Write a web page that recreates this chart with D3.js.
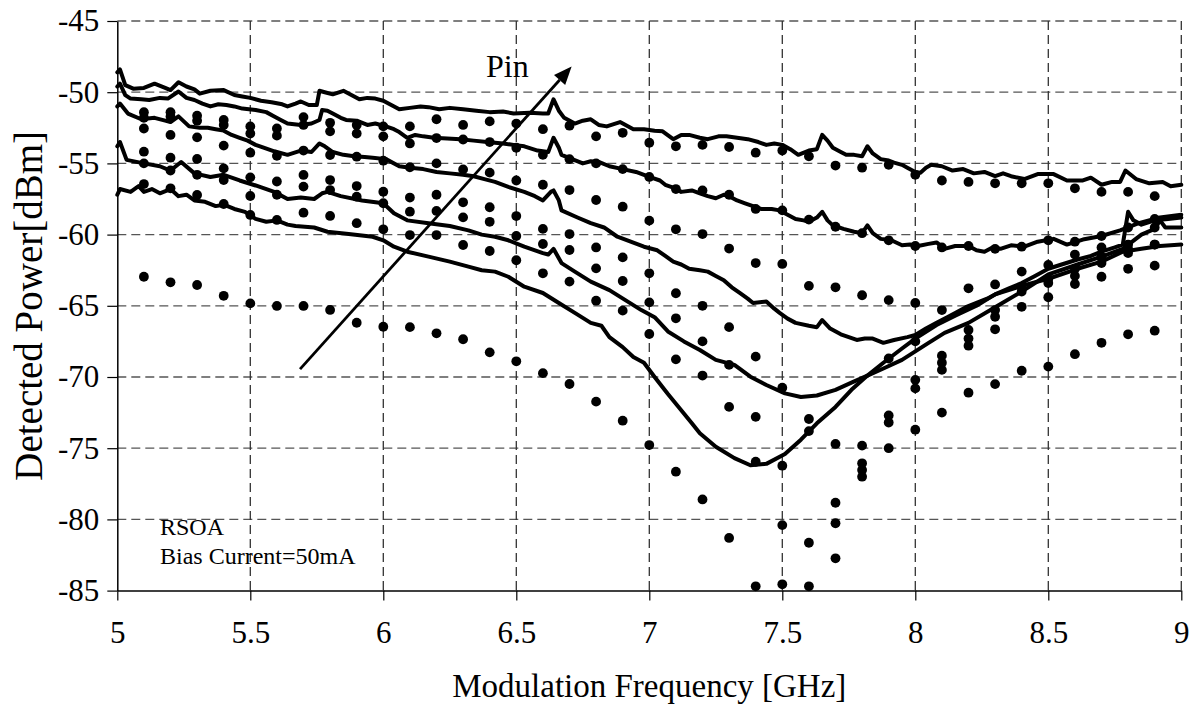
<!DOCTYPE html>
<html>
<head>
<meta charset="utf-8">
<script src="https://cdn.jsdelivr.net/npm/d3@7/dist/d3.min.js"></script>
<style>
  html, body { margin: 0; padding: 0; background: #fff; }
  svg { display: block; }
  text { font-family: "Liberation Serif", "Times New Roman", serif; fill: #000; }
</style>
</head>
<body>
<script>
// Tick values
const xTicks = [5, 5.5, 6, 6.5, 7, 7.5, 8, 8.5, 9];
const yTicks = [-45, -50, -55, -60, -65, -70, -75, -80, -85];

// Simulated response, sampled every 0.1 GHz (one array per input power)
const dotFreq = [5.1,5.2,5.3,5.4,5.5,5.6,5.7,5.8,5.9,
  6.0,6.1,6.2,6.3,6.4,6.5,6.6,6.7,6.8,6.9,
  7.0,7.1,7.2,7.3,7.4,7.5,7.6,7.7,7.8,7.9,
  8.0,8.1,8.2,8.3,8.4,8.5,8.6,8.7,8.8,8.9];
const simA = [-51.4,-51.4,-51.65,-51.95,-52.4,-52.55,-51.75,-52.15,-52.3,
  -52.4,-52.4,-51.9,-52.3,-52.05,-52.2,-52.6,-52.35,-53.1,-52.85,
  -53.55,-53.8,-53.7,-53.85,-54.25,-54.1,-54.5,-55.15,-55.3,-55.1,
  -55.8,-56.2,-56.3,-56.4,-56.4,-56.4,-56.75,-57.0,-57.0,-57.3];
const simB = [-51.8,-51.7,-52.0,-52.3,-52.9,-53.05,-52.3,-52.75,-52.9,
  -53.1,-53.6,-53.22,-53.32,-53.5,-53.9,-54.4,-54.7,-55.0,-55.4,
  -55.95,-56.8,-56.9,-57.2,-58.2,-58.3,-58.95,-59.45,-59.9,-60.4,
  -60.8,-60.9,-60.8,-61.0,-60.85,-60.4,-60.5,-60.1,-59.5,-58.9];
const simC = [-52.55,-53.0,-53.17,-53.75,-54.25,-54.47,-54.1,-54.41,-54.53,
  -54.81,-55.27,-55.0,-55.42,-55.65,-56.2,-56.5,-56.87,-57.57,-58.04,
  -59.02,-59.63,-59.96,-60.98,-62.0,-62.06,-63.6,-63.7,-64.26,-64.6,
  -64.8,-65.3,-63.77,-63.5,-62.6,-62.13,-61.4,-60.9,-60.7,-59.5];
const simD = [-54.18,-54.6,-54.69,-55.35,-55.98,-56.27,-55.81,-56.17,-56.59,
  -56.99,-57.4,-57.2,-57.73,-58.08,-58.7,-59.6,-59.96,-60.9,-61.6,
  -62.72,-64.12,-65.0,-66.5,-68.57,-70.75,-72.95,-74.7,-74.82,-72.7,
  -67.5,-68.5,-66.7,-65.3,-63.7,-63.1,-62.4,-61.55,-61.0,-60.7];
const simE = [-55.0,-55.5,-55.8,-56.17,-57.29,-57.2,-56.63,-56.87,-57.34,
  -57.8,-58.39,-58.34,-58.79,-59.1,-60.1,-60.66,-61.08,-62.37,-63.26,
  -64.76,-65.88,-67.5,-69.15,-72.8,-76.23,-73.8,-78.83,-76.06,-73.2,
  -70.2,-69.0,-67.3,-65.77,-64.0,-63.4,-62.9,-62.0,-61.3,-60.7];
const simF = [-56.45,-56.75,-57.22,-57.85,-58.62,-58.97,-58.46,-58.69,-59.2,
  -59.63,-60.03,-60.03,-60.73,-61.15,-61.8,-62.72,-63.3,-64.64,-65.34,
  -66.98,-68.76,-69.9,-72.1,-75.95,-80.4,-81.64,-80.27,-76.53,-68.7,
  -70.8,-69.5,-67.8,-66.65,-65.07,-64.4,-63.47,-62.96,-62.4,-62.18];
const simG = [-62.96,-63.35,-63.54,-64.3,-64.83,-65.01,-65.01,-65.29,-66.19,
  -66.47,-66.5,-66.93,-67.35,-68.27,-68.9,-69.73,-70.49,-71.73,-73.07,
  -74.78,-76.65,-78.6,-81.3,-84.7,-84.56,-84.7,-82.73,-77.0,-75.0,
  -73.7,-72.5,-71.1,-70.5,-69.56,-69.27,-68.4,-67.6,-67.0,-66.75];
const simSeries = [simA, simB, simC, simD, simE, simF, simG];

// Measured traces, [frequency GHz, power dBm]
const meas1 = [[5.00,-48.6],[5.01,-48.4],[5.03,-49.5],[5.06,-49.75],[5.10,-49.7],[5.14,-49.4],[5.18,-49.7],[5.20,-49.85],[5.23,-49.3],[5.26,-49.6],[5.29,-49.8],[5.31,-50.1],[5.35,-49.9],[5.40,-49.85],[5.44,-50.2],[5.47,-50.3],[5.50,-50.4],[5.54,-50.6],[5.58,-50.7],[5.62,-50.85],[5.64,-51.0],[5.67,-50.8],[5.69,-50.65],[5.72,-50.9],[5.75,-50.9],[5.76,-49.9],[5.78,-50.0],[5.81,-50.15],[5.85,-49.9],[5.88,-50.2],[5.91,-50.5],[5.94,-50.4],[5.97,-50.45],[6.00,-50.6],[6.03,-50.9],[6.06,-51.2],[6.10,-51.1],[6.14,-51.0],[6.17,-51.05],[6.21,-51.2],[6.25,-51.1],[6.30,-51.2],[6.35,-51.3],[6.40,-51.4],[6.45,-51.35],[6.49,-51.5],[6.55,-51.45],[6.60,-51.5],[6.62,-51.5],[6.64,-50.5],[6.66,-51.3],[6.68,-51.8],[6.72,-52.2],[6.75,-52.0],[6.78,-51.9],[6.81,-52.3],[6.84,-52.4],[6.89,-52.1],[6.94,-52.6],[6.98,-52.6],[7.02,-52.7],[7.05,-52.75],[7.09,-53.3],[7.12,-53.0],[7.15,-53.0],[7.19,-53.2],[7.22,-53.3],[7.26,-53.1],[7.29,-53.1],[7.33,-53.2],[7.37,-53.3],[7.41,-53.5],[7.44,-53.7],[7.47,-53.6],[7.50,-53.7],[7.53,-54.0],[7.56,-54.4],[7.60,-54.1],[7.63,-54.0],[7.65,-53.0],[7.67,-53.4],[7.69,-53.9],[7.72,-54.2],[7.74,-54.4],[7.77,-54.4],[7.80,-54.5],[7.82,-53.8],[7.84,-54.3],[7.87,-54.7],[7.90,-54.8],[7.92,-54.95],[7.95,-55.1],[7.97,-55.3],[8.00,-55.6],[8.02,-55.65],[8.04,-55.3],[8.06,-55.1],[8.10,-55.2],[8.14,-55.5],[8.18,-55.4],[8.22,-55.7],[8.26,-55.6],[8.30,-55.9],[8.33,-55.7],[8.36,-55.9],[8.41,-56.1],[8.46,-55.75],[8.52,-55.75],[8.57,-56.2],[8.63,-56.2],[8.66,-56.0],[8.70,-56.5],[8.74,-56.3],[8.77,-56.3],[8.79,-55.5],[8.81,-55.8],[8.83,-56.1],[8.88,-56.4],[8.93,-56.3],[8.96,-56.6],[9.00,-56.5]];

const meas2 = [[5.00,-49.6],[5.01,-49.4],[5.03,-50.2],[5.05,-50.45],[5.09,-50.5],[5.12,-50.55],[5.16,-50.4],[5.19,-50.45],[5.23,-49.95],[5.26,-50.4],[5.29,-50.55],[5.32,-50.8],[5.35,-51.0],[5.38,-50.85],[5.41,-50.9],[5.44,-51.0],[5.47,-51.15],[5.52,-51.25],[5.56,-51.4],[5.59,-51.7],[5.62,-52.0],[5.64,-52.2],[5.69,-52.3],[5.73,-52.2],[5.76,-51.95],[5.77,-51.25],[5.79,-51.3],[5.81,-51.5],[5.84,-51.8],[5.86,-51.95],[5.90,-52.0],[5.94,-52.3],[5.97,-52.2],[6.01,-52.4],[6.04,-52.6],[6.06,-52.8],[6.09,-53.2],[6.12,-53.0],[6.15,-53.1],[6.19,-53.2],[6.24,-53.25],[6.29,-53.3],[6.34,-53.4],[6.39,-53.5],[6.45,-53.6],[6.49,-53.7],[6.53,-53.8],[6.58,-54.1],[6.62,-54.2],[6.64,-53.2],[6.66,-53.9],[6.67,-54.4],[6.71,-54.7],[6.75,-55.0],[6.78,-54.85],[6.81,-54.9],[6.85,-55.2],[6.90,-55.4],[6.95,-55.6],[7.00,-55.95],[7.04,-56.2],[7.06,-56.5],[7.09,-56.7],[7.12,-57.0],[7.16,-56.9],[7.19,-57.1],[7.22,-57.3],[7.25,-57.45],[7.28,-57.2],[7.30,-57.3],[7.33,-57.6],[7.36,-57.8],[7.39,-58.0],[7.42,-58.2],[7.46,-58.2],[7.49,-58.3],[7.52,-58.6],[7.55,-58.9],[7.58,-59.0],[7.60,-59.1],[7.63,-58.8],[7.65,-58.4],[7.67,-59.0],[7.69,-59.35],[7.73,-59.6],[7.77,-59.8],[7.80,-59.9],[7.82,-59.35],[7.84,-59.9],[7.87,-60.3],[7.91,-60.4],[7.95,-60.75],[7.98,-60.7],[8.01,-60.8],[8.05,-60.65],[8.08,-60.55],[8.11,-61.0],[8.15,-60.8],[8.20,-60.8],[8.23,-61.1],[8.26,-61.2],[8.29,-60.9],[8.32,-61.0],[8.36,-60.75],[8.41,-60.85],[8.46,-60.5],[8.52,-60.3],[8.57,-60.7],[8.63,-60.35],[8.70,-60.1],[8.77,-59.7],[8.84,-59.2],[8.92,-58.8],[9.00,-58.6]];

const meas3 = [[5.00,-51.0],[5.01,-50.8],[5.04,-51.5],[5.09,-51.9],[5.14,-51.8],[5.18,-52.0],[5.20,-52.1],[5.23,-51.7],[5.27,-52.4],[5.31,-52.5],[5.34,-52.5],[5.37,-52.6],[5.40,-52.7],[5.43,-53.0],[5.46,-53.2],[5.49,-53.4],[5.52,-53.7],[5.55,-53.9],[5.59,-54.15],[5.64,-54.4],[5.69,-54.1],[5.73,-54.2],[5.76,-53.6],[5.78,-53.8],[5.81,-54.2],[5.85,-54.4],[5.89,-54.5],[5.93,-54.55],[5.96,-54.6],[6.01,-54.7],[6.06,-55.2],[6.10,-55.3],[6.15,-55.4],[6.20,-55.6],[6.25,-55.7],[6.30,-55.8],[6.34,-55.9],[6.38,-56.1],[6.42,-56.3],[6.47,-56.65],[6.53,-57.0],[6.57,-57.3],[6.60,-57.6],[6.63,-57.0],[6.64,-56.9],[6.66,-57.6],[6.67,-58.3],[6.73,-58.8],[6.78,-59.2],[6.83,-59.5],[6.88,-60.15],[6.93,-60.5],[6.98,-60.85],[7.03,-61.1],[7.06,-61.5],[7.09,-61.9],[7.12,-62.1],[7.15,-62.4],[7.19,-62.5],[7.22,-62.6],[7.25,-62.9],[7.28,-63.2],[7.31,-63.7],[7.34,-64.1],[7.37,-64.5],[7.39,-64.8],[7.44,-64.7],[7.47,-65.2],[7.49,-65.5],[7.52,-65.9],[7.55,-66.2],[7.60,-66.4],[7.63,-66.5],[7.65,-66.0],[7.68,-66.6],[7.72,-67.0],[7.75,-67.2],[7.78,-67.4],[7.81,-67.3],[7.84,-67.3],[7.88,-67.6],[7.92,-67.4],[7.97,-67.2],[8.00,-67.05],[8.04,-66.6],[8.08,-66.2],[8.12,-65.8],[8.15,-65.5],[8.19,-65.1],[8.23,-64.8],[8.27,-64.5],[8.30,-64.2],[8.35,-63.8],[8.40,-63.4],[8.45,-62.9],[8.50,-62.4],[8.55,-62.1],[8.61,-61.75],[8.66,-61.5],[8.70,-61.2],[8.75,-60.9],[8.78,-60.7],[8.80,-58.4],[8.82,-59.0],[8.85,-59.3],[8.90,-59.0],[8.95,-58.9],[9.00,-58.8]];

const meas4 = [[5.00,-53.8],[5.01,-53.5],[5.035,-54.75],[5.10,-55.0],[5.16,-55.2],[5.20,-55.5],[5.24,-54.9],[5.29,-55.7],[5.35,-55.95],[5.40,-55.8],[5.46,-56.2],[5.52,-56.55],[5.59,-57.0],[5.64,-57.5],[5.69,-57.4],[5.74,-57.5],[5.77,-57.1],[5.79,-57.0],[5.84,-57.3],[5.92,-57.6],[6.00,-57.8],[6.04,-58.5],[6.09,-59.0],[6.17,-59.2],[6.25,-59.4],[6.32,-59.7],[6.37,-60.0],[6.42,-60.15],[6.47,-60.4],[6.53,-60.85],[6.60,-61.3],[6.62,-61.4],[6.64,-61.0],[6.67,-62.0],[6.72,-62.6],[6.78,-63.3],[6.85,-63.9],[6.91,-64.6],[6.97,-65.3],[7.02,-65.8],[7.07,-66.8],[7.13,-67.5],[7.19,-68.1],[7.25,-68.8],[7.32,-69.15],[7.38,-69.98],[7.44,-70.56],[7.51,-71.15],[7.57,-71.4],[7.63,-71.3],[7.70,-70.9],[7.76,-70.4],[7.82,-69.9],[7.88,-69.4],[7.95,-68.8],[8.05,-67.6],[8.11,-66.9],[8.20,-66.2],[8.30,-65.1],[8.40,-64.0],[8.50,-62.8],[8.61,-62.1],[8.70,-61.55],[8.78,-61.0],[8.85,-60.0],[8.90,-59.6],[8.92,-59.0],[8.94,-59.5],[9.00,-59.5]];

const meas5 = [[5.00,-57.2],[5.01,-56.8],[5.05,-57.0],[5.08,-56.6],[5.10,-57.0],[5.13,-56.8],[5.16,-57.1],[5.20,-56.8],[5.23,-57.3],[5.26,-57.2],[5.29,-57.6],[5.33,-57.7],[5.37,-58.0],[5.40,-57.9],[5.44,-58.2],[5.48,-58.4],[5.52,-58.9],[5.56,-59.1],[5.60,-59.0],[5.64,-59.3],[5.67,-59.4],[5.74,-59.5],[5.79,-59.8],[5.87,-59.95],[5.96,-60.15],[6.00,-60.4],[6.04,-60.85],[6.09,-61.2],[6.17,-61.55],[6.25,-61.9],[6.32,-62.25],[6.37,-62.5],[6.42,-62.6],[6.47,-62.96],[6.53,-63.66],[6.60,-64.1],[6.66,-64.8],[6.72,-65.5],[6.78,-66.2],[6.82,-66.4],[6.85,-67.2],[6.90,-67.9],[6.94,-68.6],[6.98,-69.0],[7.02,-70.0],[7.07,-71.2],[7.11,-72.1],[7.16,-73.25],[7.19,-73.95],[7.25,-74.9],[7.32,-75.7],[7.38,-76.2],[7.44,-76.1],[7.51,-75.4],[7.57,-74.4],[7.63,-73.25],[7.70,-72.1],[7.76,-70.9],[7.82,-69.9],[7.88,-69.0],[7.95,-68.0],[8.00,-67.3],[8.08,-66.35],[8.15,-65.7],[8.23,-65.0],[8.30,-64.2],[8.40,-63.6],[8.50,-63.1],[8.61,-62.4],[8.70,-61.9],[8.78,-61.2],[8.85,-61.0],[8.92,-60.8],[9.00,-60.7]];

const measured = [meas1, meas2, meas3, meas4, meas5];

// Annotation: arrow along increasing input power
const arrowFrom = [5.687, -69.45];
const arrowTo = [6.708, -48.2];

const W = 1191, H = 707;
const svg = d3.select("body").append("svg").attr("width", W).attr("height", H);

const x = d3.scaleLinear().domain([5, 9]).range([117.3, 1181.3]);
const y = d3.scaleLinear().domain([-85, -45]).range([590.6, 21]);

// Dashed grid
const grid = svg.append("g");
grid.selectAll("line.h").data(yTicks.filter(v => v !== -85)).join("line")
  .attr("x1", x(5)).attr("x2", x(9))
  .attr("y1", d => y(d)).attr("y2", d => y(d))
  .attr("stroke", "#555").attr("stroke-width", 1.3)
  .attr("stroke-dasharray", "9,5");
grid.selectAll("line.v").data(xTicks.filter(v => v !== 5)).join("line")
  .attr("y1", y(-45)).attr("y2", y(-85))
  .attr("x1", d => x(d)).attr("x2", d => x(d))
  .attr("stroke", "#333").attr("stroke-width", 1.3)
  .attr("stroke-dasharray", "9,5");

// Axes
const xAxis = d3.axisBottom(x).tickValues(xTicks).tickSize(10)
  .tickFormat(d3.format("")).tickSizeOuter(0);
const yAxis = d3.axisLeft(y).tickValues(yTicks).tickSize(10).tickPadding(8)
  .tickFormat(d => String(d)).tickSizeOuter(0);

const gx = svg.append("g").attr("transform", `translate(0,${y(-85)})`).call(xAxis);
const gy = svg.append("g").attr("transform", `translate(${x(5)},0)`).call(yAxis);
[gx, gy].forEach(g => {
  g.select(".domain").attr("stroke", "#000").attr("stroke-width", 1.5);
  g.selectAll(".tick line").attr("stroke", "#000").attr("stroke-width", 1.2);
  g.selectAll(".tick text").attr("font-family", "Liberation Serif").attr("font-size", 31).attr("fill", "#000");
});
gx.selectAll(".tick text").attr("y", 52).attr("dy", 0);

// Measured traces
const line = d3.line().x(d => x(d[0])).y(d => y(d[1]));
svg.append("g").selectAll("path").data(measured).join("path")
  .attr("d", line)
  .attr("fill", "none").attr("stroke", "#000")
  .attr("stroke-width", 4).attr("stroke-linejoin", "round").attr("stroke-linecap", "round");

// Simulated points
const dotData = simSeries.flatMap(s => s.map((v, i) => [dotFreq[i], v]));
svg.append("g").selectAll("circle").data(dotData).join("circle")
  .attr("cx", d => x(d[0])).attr("cy", d => y(d[1])).attr("r", 4.9).attr("fill", "#000");

// Arrow
const ax1 = x(arrowFrom[0]), ay1 = y(arrowFrom[1]);
const ax2 = x(arrowTo[0]), ay2 = y(arrowTo[1]);
const ang = Math.atan2(ay2 - ay1, ax2 - ax1);
const headLen = 18, headHalf = 7.5;
const bx = ax2 - headLen * Math.cos(ang), by = ay2 - headLen * Math.sin(ang);
svg.append("line")
  .attr("x1", ax1).attr("y1", ay1).attr("x2", bx).attr("y2", by)
  .attr("stroke", "#000").attr("stroke-width", 2.8);
svg.append("path")
  .attr("d", `M${ax2},${ay2} L${bx + headHalf * Math.sin(ang)},${by - headHalf * Math.cos(ang)} L${bx - headHalf * Math.sin(ang)},${by + headHalf * Math.cos(ang)} Z`)
  .attr("fill", "#000");

// Labels
svg.append("text").attr("x", x(6.386)).attr("y", y(-48.93))
  .attr("font-size", 32).text("Pin");
svg.append("text").attr("x", 160).attr("y", 535).attr("font-size", 24).text("RSOA");
svg.append("text").attr("x", 160).attr("y", 564).attr("font-size", 24).text("Bias Current=50mA");

svg.append("text").attr("x", (x(5) + x(9)) / 2).attr("y", 697)
  .attr("text-anchor", "middle").attr("font-size", 33).text("Modulation Frequency [GHz]");
svg.append("text").attr("transform", `translate(42,${(y(-45) + y(-85)) / 2}) rotate(-90)`)
  .attr("text-anchor", "middle").attr("font-size", 39).text("Detected Power[dBm]");
</script>
</body>
</html>
